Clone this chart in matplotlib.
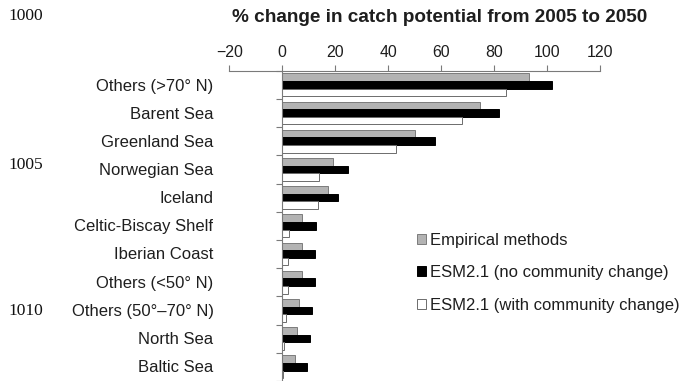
import numpy as np
import matplotlib
matplotlib.use("Agg")
import matplotlib.pyplot as plt
from matplotlib.patches import Patch

plt.rcParams["font.family"] = ["Liberation Sans", "DejaVu Sans"]

regions = ["Others (>70\u00b0 N)", "Barent Sea", "Greenland Sea", "Norwegian Sea",
           "Iceland", "Celtic-Biscay Shelf", "Iberian Coast", "Others (<50\u00b0 N)",
           "Others (50\u00b0\u201370\u00b0 N)", "North Sea", "Baltic Sea"]
empirical = [93.3, 74.8, 50.2, 19.2, 17.2, 7.5, 7.4, 7.5, 6.2, 5.5, 4.9]
esm_no_change = [102.0, 82.0, 57.6, 24.8, 20.9, 12.7, 12.2, 12.2, 11.2, 10.4, 9.5]
esm_with_change = [84.5, 67.8, 43.0, 14.0, 13.5, 2.6, 2.3, 2.0, 1.3, 0.6, 0.2]
xticks = [-20, 0, 20, 40, 60, 80, 100, 120]
series_labels = ["Empirical methods", "ESM2.1 (no community change)",
                 "ESM2.1 (with community change)"]
line_numbers = ["1000", "1005", "1010"]

W, H = 682, 381
fig = plt.figure(figsize=(W / 100, H / 100), dpi=100)
ax = fig.add_axes([229.3 / W, 1 - 381 / H, 370.7 / W, (381 - 70.7) / H])

txt = "#1e1e1e"
axis_col = "#7a7a7a"
y = np.arange(len(regions))
h = 0.27
ax.barh(y - h, empirical, height=h, color="#b3b3b3", edgecolor="#7c7c7c", linewidth=0.7)
ax.barh(y, esm_no_change, height=h, color="#000000", edgecolor="#000000", linewidth=0.7)
ax.barh(y + h, esm_with_change, height=h, color="#ffffff", edgecolor="#6c6c6c", linewidth=0.7)

ax.set_xlim(-20, 120)
ax.set_ylim(len(regions) - 0.5, -0.5)

for s in ("right", "bottom"):
    ax.spines[s].set_visible(False)
ax.spines["left"].set_position(("data", 0))
ax.spines["left"].set_color(axis_col)
ax.spines["top"].set_color(axis_col)

ax.xaxis.tick_top()
ax.set_xticks(xticks)
ax.set_xticklabels(["\u221220" if v < 0 else str(v) for v in xticks])
ax.tick_params(axis="x", direction="out", length=4, width=0.8, color=axis_col,
               labelsize=11.4, labelcolor=txt, pad=4)

ax.set_yticks(y)
ax.set_yticklabels([])
ax.set_yticks(np.arange(-0.5, len(regions), 1.0), minor=True)
ax.tick_params(axis="y", which="major", length=0)
ax.tick_params(axis="y", which="minor", direction="out", length=4, width=0.8, color=axis_col)

for yi, name in zip(y, regions):
    ax.text(213.5 / W, 1 - (86 + 28.15 * yi) / H, name, transform=fig.transFigure,
            ha="right", va="center", fontsize=12, color=txt)

fig.text(440 / W, 1 - 17 / H, "% change in catch potential from 2005 to 2050",
         ha="center", va="center", fontsize=13.7, fontweight="bold", color=txt)

for yy, n in zip([16, 165, 311], line_numbers):
    fig.text(8 / W, 1 - yy / H, n, ha="left", va="center", fontsize=12.5,
             family="Liberation Serif", color="#111111")

handles = [Patch(facecolor="#b3b3b3", edgecolor="#7c7c7c", linewidth=0.7),
           Patch(facecolor="#000000", edgecolor="#000000", linewidth=0.7),
           Patch(facecolor="#ffffff", edgecolor="#6c6c6c", linewidth=0.7)]
fig.legend(handles, series_labels, loc="upper left",
           bbox_to_anchor=(416.5 / W, 1 - 232.5 / H), frameon=False,
           fontsize=12, handlelength=0.55, handleheight=0.55, handletextpad=0.25,
           labelspacing=1.07, borderaxespad=0, borderpad=0, labelcolor=txt)

fig.savefig("out.png", dpi=100)
